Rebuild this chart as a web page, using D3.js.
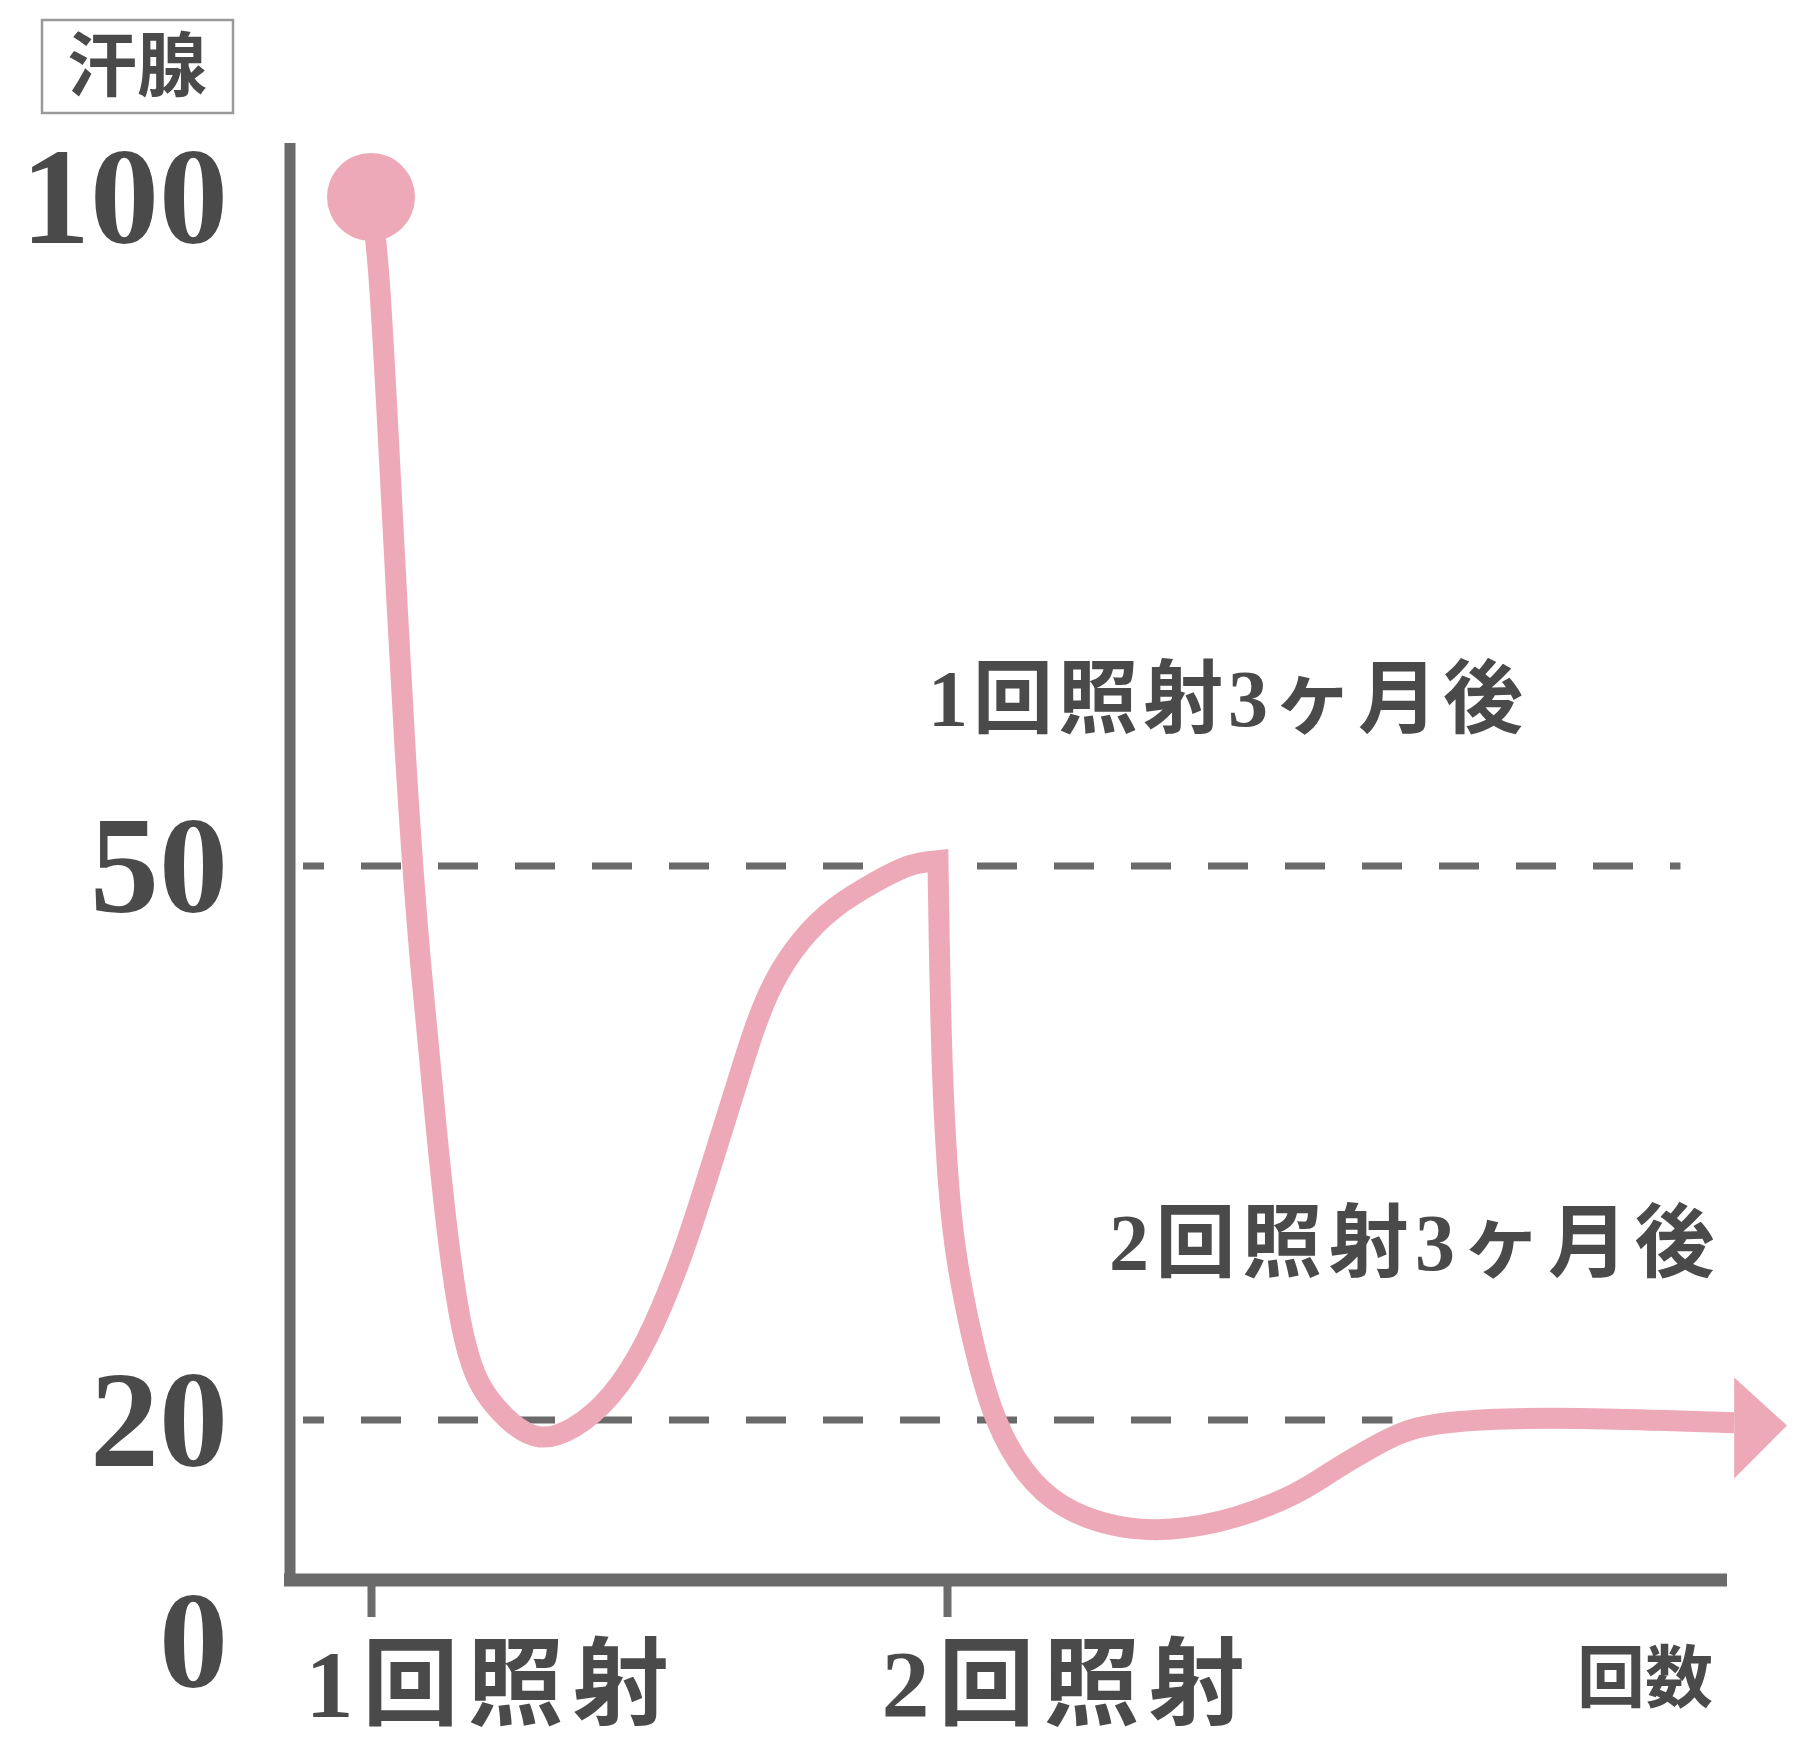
<!DOCTYPE html>
<html>
<head>
<meta charset="utf-8">
<script src="https://cdn.jsdelivr.net/npm/d3@7"></script>
<style>
  body { margin: 0; background: #fff; }
  svg { display: block; }
</style>
</head>
<body>
<script>
// y: relative number of sweat glands, x: months since the 1st irradiation
const yTitle = "汗腺"
const xTitle = "回数"
const yTickValues = [0, 20, 50, 100]
const irradiations = [0, 3]
const irradiationLabels = ["1回照射", "2回照射"]
const refLevels = [50, 20]
const refEnds = [6.82, 5.32]
const notes = ["1回照射3ヶ月後", "2回照射3ヶ月後"]

// after the 1st irradiation, up to the 2nd
const months1 = [0, 0.042, 0.081, 0.182, 0.255, 0.349, 0.399, 0.469, 0.542, 0.615, 0.724, 0.875,
  1.057, 1.248, 1.438, 1.635, 1.748, 1.885, 1.99, 2.094, 2.234, 2.406, 2.635, 2.807, 2.953]
const glands1 = [100, 94.8, 84.8, 56.4, 44.7, 34.8, 29.8, 24.8, 22.3, 21.1, 19.7, 18.0,
  19.1, 21.1, 24.1, 29.2, 33.0, 37.5, 41.1, 43.8, 46.0, 47.8, 49.2, 50.2, 50.4]
// after the 2nd irradiation
const months2 = [2.953, 2.958, 2.972, 2.998, 3.035, 3.145, 3.25, 3.4, 3.59, 3.875, 4.16, 4.505, 4.84,
  5.01, 5.19, 5.36, 5.53, 5.88, 6.4, 7.1]
const glands2 = [50.4, 46.5, 39.3, 33.9, 29.2, 23.6, 19.7, 15.1, 12.0, 10.2, 9.9, 11.0, 13.4,
  15.45, 17.3, 18.9, 19.7, 20.1, 20.1, 19.75]
const arrowTip = [7.375, 19.5]

const W = 1818, H = 1758
const axisColor = "#6b6b6b"
const textColor = "#4a4a4a"
const pink = "#eda9b7"
const serif = "'Liberation Serif', 'Noto Sans CJK JP', serif"

const svg = d3.select("body").append("svg")
  .attr("width", W)
  .attr("height", H)

svg.append("rect").attr("width", W).attr("height", H).attr("fill", "#fff")

// the picture's y axis is not linear, so a piecewise scale
const y = d3.scaleLinear()
  .domain([0, 20, 50, 100])
  .range([1641, 1420, 866, 197])
const x = d3.scaleLinear()
  .domain([0, 3])
  .range([371, 947])

const axisX = 290, axisY = 1580

// dashed reference lines
svg.selectAll("line.ref")
  .data(refLevels)
  .enter()
  .append("line")
  .attr("class", "ref")
  .attr("x1", 303)
  .attr("x2", (d, i) => x(refEnds[i]))
  .attr("y1", d => y(d))
  .attr("y2", d => y(d))
  .attr("stroke", "#6a6a6a")
  .attr("stroke-width", 7)
  .attr("stroke-dasharray", "40,37")
  .attr("stroke-dashoffset", 19)

// axis lines
svg.append("line")
  .attr("x1", axisX).attr("x2", axisX)
  .attr("y1", 143).attr("y2", axisY + 6)
  .attr("stroke", axisColor).attr("stroke-width", 11)
svg.append("line")
  .attr("x1", 284).attr("x2", 1727)
  .attr("y1", axisY).attr("y2", axisY)
  .attr("stroke", axisColor).attr("stroke-width", 13)

// y ticks
const gy = svg.append("g")
  .attr("transform", "translate(" + axisX + ",0)")
  .call(d3.axisLeft(y).tickValues(yTickValues).tickSize(0).tickPadding(62))
gy.select(".domain").remove()
gy.selectAll("text")
  .attr("font-family", "'Liberation Serif', serif")
  .attr("font-weight", "bold")
  .attr("font-size", 138)
  .attr("fill", textColor)
  .attr("dy", "0.33em")

// x ticks
const gx = svg.append("g")
  .attr("transform", "translate(0," + axisY + ")")
  .call(d3.axisBottom(x).tickValues(irradiations).tickSize(37)
    .tickFormat((d, i) => irradiationLabels[i]))
gx.select(".domain").remove()
gx.selectAll(".tick line")
  .attr("stroke", axisColor)
  .attr("stroke-width", 8)
gx.selectAll("text")
  .attr("font-family", serif)
  .attr("font-weight", "bold")
  .attr("font-size", 96)
  .attr("letter-spacing", 9)
  .attr("fill", textColor)
  .attr("text-anchor", "start")
  .attr("x", -66)
  .attr("y", 102)
  .attr("dy", "0.36em")

// axis titles
svg.append("rect")
  .attr("x", 42).attr("y", 20)
  .attr("width", 191).attr("height", 93)
  .attr("fill", "none")
  .attr("stroke", "#9a9a9a")
  .attr("stroke-width", 2.5)
svg.append("text")
  .attr("x", 137).attr("y", 66)
  .attr("dy", "0.36em")
  .attr("text-anchor", "middle")
  .attr("font-family", "'Noto Sans CJK JP', sans-serif")
  .attr("font-weight", "bold")
  .attr("font-size", 70)
  .attr("fill", textColor)
  .text(yTitle)
svg.append("text")
  .attr("x", 1645).attr("y", 1678)
  .attr("dy", "0.36em")
  .attr("text-anchor", "middle")
  .attr("font-family", "'Noto Sans CJK JP', sans-serif")
  .attr("font-weight", "bold")
  .attr("font-size", 68)
  .attr("fill", textColor)
  .text(xTitle)

// notes above each reference level
const noteX = [x(3) - 19, x(3) + 162]
const noteY = [y(50) - 169, y(20) - 179]
svg.selectAll("text.note")
  .data(notes)
  .enter()
  .append("text")
  .attr("class", "note")
  .attr("x", (d, i) => noteX[i])
  .attr("y", (d, i) => noteY[i])
  .attr("dy", "0.36em")
  .attr("font-family", serif)
  .attr("font-weight", "bold")
  .attr("font-size", 80)
  .attr("letter-spacing", (d, i) => i === 0 ? 5 : 6.5)
  .attr("fill", textColor)
  .text(d => d)

// the curve: two smooth pieces with a sharp corner at the 2nd irradiation
// (basis spline smooths out reading noise between the points)
const line = d3.line()
  .x(d => x(d[0]))
  .y(d => y(d[1]))
  .curve(d3.curveBasis)
const pts1 = months1.map((m, i) => [m, glands1[i]])
const pts2 = months2.map((m, i) => [m, glands2[i]])
const d2 = line(pts2).replace(/^M[^A-Za-z]*/, "")

svg.append("path")
  .attr("d", line(pts1) + d2)
  .attr("fill", "none")
  .attr("stroke", pink)
  .attr("stroke-width", 21)
  .attr("stroke-linejoin", "miter")

// arrow head
const last = pts2[pts2.length - 1]
const bx = x(last[0])
const tx = x(arrowTip[0]), ty = y(arrowTip[1])
svg.append("path")
  .attr("d", "M" + bx + "," + (ty - 48) + "L" + tx + "," + ty + "L" + bx + "," + (ty + 53) + "Z")
  .attr("fill", pink)

// start dot
svg.append("circle")
  .attr("cx", x(pts1[0][0]))
  .attr("cy", y(pts1[0][1]))
  .attr("r", 44)
  .attr("fill", pink)
</script>
</body>
</html>
